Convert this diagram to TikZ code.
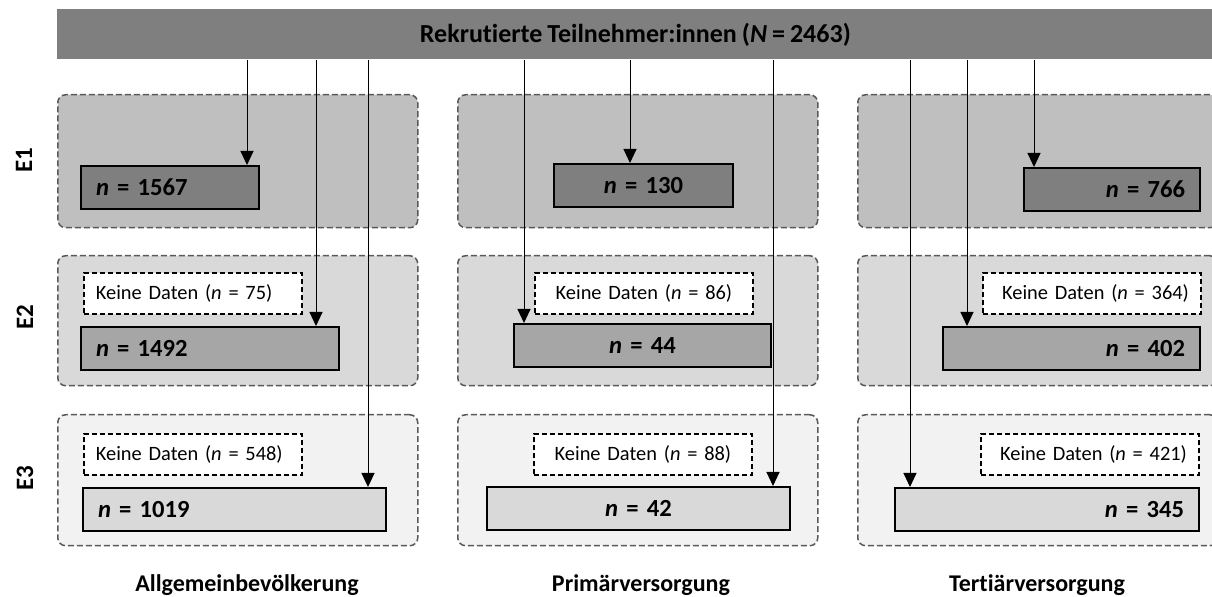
\documentclass[tikz,border=0pt]{standalone}
\usepackage{fontspec}
\setmainfont{Carlito}[Ligatures=NoCommon, WordSpace=0.85]
\usetikzlibrary{arrows.meta}

\definecolor{bargray}{HTML}{7F7F7F}
\definecolor{grpline}{HTML}{595959}
\definecolor{grpone}{HTML}{BFBFBF}
\definecolor{grptwo}{HTML}{D9D9D9}
\definecolor{grpthree}{HTML}{F2F2F2}
\definecolor{cntone}{HTML}{7F7F7F}
\definecolor{cnttwo}{HTML}{A6A6A6}
\definecolor{cntthree}{HTML}{D9D9D9}

\begin{document}
\begin{tikzpicture}[x=0.5pt, y=-0.5pt,
    grp/.style={draw=grpline, dash pattern=on 3pt off 1.5pt, line width=0.75pt, rounded corners=4pt,
      anchor=north west, minimum width=180pt, inner sep=0pt},
    cnt/.style={draw=black, line width=1pt, anchor=north west, inner xsep=7.5pt, inner ysep=0pt,
      minimum height=21.5pt, font=\fontsize{12.3}{14}\selectfont\bfseries},
    nodata/.style={draw=black, dash pattern=on 2.5pt off 1.5pt, line width=0.9pt, fill=white,
      anchor=north west, minimum height=20.5pt, inner xsep=6pt, inner ysep=0pt, text width=97pt,
      font=\fontsize{10.2}{12}\selectfont},
    flow/.style={line width=0.5pt, -{Triangle[width=6.5pt,length=7pt]}},
    rowlab/.style={rotate=90, font=\fontsize{12.5}{14}\selectfont\bfseries},
    collab/.style={font=\fontsize{12}{14}\selectfont\bfseries}]
  \useasboundingbox (0,0) rectangle (1212,597);

  % recruited sample
  \node[fill=bargray, anchor=north west, minimum width=578pt, minimum height=25pt, inner sep=0pt,
    font=\fontsize{13}{15}\selectfont\bfseries] (top) at (57,9) {Rekrutierte Teilnehmer:innen (\textit{N} = 2463)};

  % survey waves per setting
  \node[grp, fill=grpone, minimum height=66.5pt] (ga1) at (57,94) {};
  \node[grp, fill=grpone, minimum height=66.5pt] (gb1) at (457,94) {};
  \node[grp, fill=grpone, minimum height=66.5pt] (gc1) at (857,94) {};
  \node[grp, fill=grptwo, minimum height=65pt] (ga2) at (57,255) {};
  \node[grp, fill=grptwo, minimum height=65pt] (gb2) at (457,255) {};
  \node[grp, fill=grptwo, minimum height=65pt] (gc2) at (857,255) {};
  \node[grp, fill=grpthree, minimum height=65.5pt] (ga3) at (57,414) {};
  \node[grp, fill=grpthree, minimum height=65.5pt] (gb3) at (457,414) {};
  \node[grp, fill=grpthree, minimum height=65.5pt] (gc3) at (857,414) {};

  % E1
  \node[cnt, fill=cntone, text width=74pt, align=left] (a1) at (80,165) {\textit{n} = 1567};
  \node[cnt, fill=cntone, text width=74.5pt, align=center] (b1) at (553,163) {\textit{n} = 130};
  \node[cnt, fill=cntone, text width=73pt, align=right] (c1) at (1023,167) {\textit{n} = 766};

  % E2
  \node[nodata, align=left] (a2k) at (83,272) {Keine Daten (\textit{n} = 75)};
  \node[nodata, align=center] (b2k) at (534,272) {Keine Daten (\textit{n} = 86)};
  \node[nodata, align=right] (c2k) at (982,272) {Keine Daten (\textit{n} = 364)};
  \node[cnt, fill=cnttwo, text width=114pt, align=left] (a2) at (80,326) {\textit{n} = 1492};
  \node[cnt, fill=cnttwo, text width=113.5pt, align=center] (b2) at (513,323) {\textit{n} = 44};
  \node[cnt, fill=cnttwo, text width=113.5pt, align=right] (c2) at (942,326) {\textit{n} = 402};

  % E3
  \node[nodata, align=left] (a3k) at (83,433) {Keine Daten (\textit{n} = 548)};
  \node[nodata, align=center] (b3k) at (533,433) {Keine Daten (\textit{n} = 88)};
  \node[nodata, align=right] (c3k) at (980,433) {Keine Daten (\textit{n} = 421)};
  \node[cnt, fill=cntthree, text width=136.5pt, align=left] (a3) at (82,487) {\textit{n} = 1019};
  \node[cnt, fill=cntthree, text width=136.5pt, align=center] (b3) at (486,486) {\textit{n} = 42};
  \node[cnt, fill=cntthree, text width=137pt, align=right] (c3) at (894,487) {\textit{n} = 345};

  % arrows from the bar
  \draw[flow] (top.south -| 247,0) -- (a1.north -| 247,0);
  \draw[flow] (top.south -| 316,0) -- (a2.north -| 316,0);
  \draw[flow] (top.south -| 368,0) -- (a3.north -| 368,0);
  \draw[flow] (top.south -| 524,0) -- (b2.north -| 524,0);
  \draw[flow] (top.south -| 630,0) -- (b1.north -| 630,0);
  \draw[flow] (top.south -| 773,0) -- (b3.north -| 773,0);
  \draw[flow] (top.south -| 910,0) -- (c3.north -| 910,0);
  \draw[flow] (top.south -| 967,0) -- (c2.north -| 967,0);
  \draw[flow] (top.south -| 1034,0) -- (c1.north -| 1034,0);

  % labels
  \node[rowlab] (e1) at (24,160) {E1};
  \node[rowlab] (e2) at (25,317) {E2};
  \node[rowlab] (e3) at (25,478) {E3};
  \node[collab] (la) at (247,585) {Allgemeinbevölkerung};
  \node[collab] (lb) at (641,585) {Primärversorgung};
  \node[collab] (lc) at (1037,585) {Tertiärversorgung};
\end{tikzpicture}
\end{document}
